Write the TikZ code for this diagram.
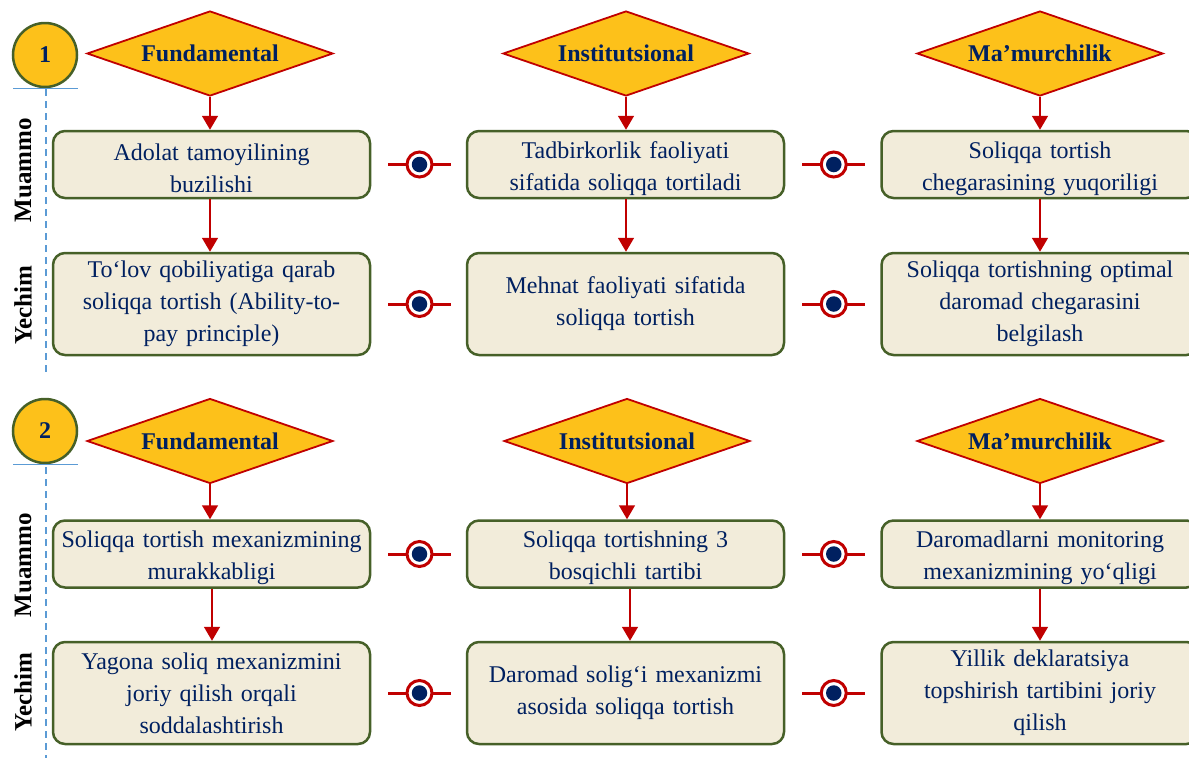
\documentclass[tikz,border=0pt]{standalone}
\usepackage{fontspec}
\setmainfont{Liberation Serif}
\usetikzlibrary{shapes.geometric,arrows.meta}
\definecolor{gold}{RGB}{253,193,26}
\definecolor{dred}{RGB}{192,0,0}
\definecolor{navy}{RGB}{0,32,96}
\definecolor{beige}{RGB}{242,236,218}
\definecolor{dgreen}{RGB}{70,96,40}
\definecolor{lblue}{RGB}{91,155,213}
\tikzset{
  cat/.style={diamond, aspect=2.9, minimum width=246pt, minimum height=85pt, inner sep=0pt,
    fill=gold, draw=dred, line width=1.8pt, text=navy,
    font=\fontsize{24}{28}\selectfont\bfseries},
  box/.style={rectangle, rounded corners=12pt, fill=beige, draw=dgreen, line width=2.5pt,
    minimum width=317pt, text width=310pt, align=center, text=navy, inner sep=0pt,
    font=\fontsize{24}{32}\selectfont},
  boxa/.style={box, minimum height=67pt, text height=25pt},
  boxb/.style={box, minimum height=102pt},
  num/.style={circle, minimum size=64pt, inner sep=0pt, fill=gold, draw=dgreen, line width=2.5pt,
    text=navy, font=\fontsize{24}{28}\selectfont\bfseries},
  side/.style={rotate=90, font=\fontsize{25}{28}\selectfont\bfseries, text=black},
  arr/.style={draw=dred, line width=1.6pt, -{Triangle[width=16pt,length=14pt]}},
  conn/.style={draw=dred, line width=3pt},
  ring/.style={circle, minimum size=25pt, inner sep=0pt, draw=dred, line width=3pt, fill=white},
  bluedot/.style={circle, minimum size=15.5pt, inner sep=0pt, fill=navy},
  dashln/.style={draw=lblue, line width=1.6pt, dash pattern=on 7pt off 5pt},
  uline/.style={draw=lblue, line width=1.4pt}
}
\begin{document}
\begin{tikzpicture}[x=1pt,y=-1pt]
\useasboundingbox (0,0) rectangle (1189,758);
% ---------- section 1 ----------
\node[num] (n1) at (45,55) {1};
\draw[uline] ([xshift=-32pt]n1.south) -- ([xshift=33pt]n1.south);
\coordinate (t1) at (46,89);
\coordinate (e1) at (46,376);
\draw[dashln] (t1) -- (e1);
\node[side] (m1) at (23,170) {Muammo};
\node[side] (y1) at (23,305) {Yechim};

\node[cat] (d11) at (210,53.5) {Fundamental};
\node[cat] (d21) at (626,53.5) {Institutsional};
\node[cat] (d31) at (1040,53.5) {Ma’murchilik};

\node[boxa] (a11) at (211.5,164.5) {Adolat tamoyilining\\buzilishi};
\node[boxa] (a21) at (625.5,164.5) {Tadbirkorlik faoliyati\\sifatida soliqqa tortiladi};
\node[boxa] (a31) at (1040,164.5) {Soliqqa tortish\\chegarasining yuqoriligi};

\node[boxb] (b11) at (211.5,304) {To‘lov qobiliyatiga qarab\\soliqqa tortish (Ability-to-\\pay principle)};
\node[boxb] (b21) at (625.5,304) {Mehnat faoliyati sifatida\\soliqqa tortish};
\node[boxb] (b31) at (1040,304) {Soliqqa tortishning optimal\\daromad chegarasini\\belgilash};

\foreach \d/\a/\b in {d11/a11/b11, d21/a21/b21, d31/a31/b31}{
  \draw[arr] (\d.south) -- (\d.south |- \a.north);
  \draw[arr] (\a.south -| \d.south) -- (\b.north -| \d.south);
}

% ---------- section 2 ----------
\node[num] (n2) at (45,431) {2};
\draw[uline] ([xshift=-32pt]n2.south) -- ([xshift=33pt]n2.south);
\coordinate (t2) at (46,467);
\coordinate (e2) at (46,758);
\draw[dashln] (t2) -- (e2);
\node[side] (m2) at (23,565) {Muammo};
\node[side] (y2) at (23,692) {Yechim};

\node[cat] (d12) at (210,441) {Fundamental};
\node[cat] (d22) at (627,441) {Institutsional};
\node[cat] (d32) at (1040,441) {Ma’murchilik};

\node[boxa] (a12) at (211.5,554) {Soliqqa tortish mexanizmining\\murakkabligi};
\node[boxa] (a22) at (625.5,554) {Soliqqa tortishning 3\\bosqichli tartibi};
\node[boxa] (a32) at (1040,554) {Daromadlarni monitoring\\mexanizmining yo‘qligi};

\node[boxb] (b12) at (211.5,693) {Yagona soliq mexanizmini\\joriy qilish orqali\\soddalashtirish};
\node[boxb] (b22) at (625.5,693) {Daromad solig‘i mexanizmi\\asosida soliqqa tortish};
\node[boxb] (b32) at (1040,693) {Yillik deklaratsiya\\topshirish tartibini joriy\\qilish};

\draw[arr] (d12.south) -- (d12.south |- a12.north);
\draw[arr] ([xshift=2pt]a12.south -| d12.south) -- ([xshift=2pt]b12.north -| d12.south);
\draw[arr] (d22.south) -- (d22.south |- a22.north);
\draw[arr] ([xshift=3pt]a22.south -| d22.south) -- ([xshift=3pt]b22.north -| d22.south);
\draw[arr] (d32.south) -- (d32.south |- a32.north);
\draw[arr] (a32.south -| d32.south) -- (b32.north -| d32.south);

% ---------- connector symbols ----------
\foreach \l/\r/\k in {a11/a21/p1, a21/a31/p2, b11/b21/p3, b21/b31/p4,
                      a12/a22/p5, a22/a32/p6, b12/b22/p7, b22/b32/p8}{
  \draw[conn] ([xshift=17pt]\l.east) -- ([xshift=-15pt]\r.west) node[midway, ring] (\k r) {};
  \node[bluedot] (\k d) at (\k r.center) {};
}
\end{tikzpicture}
\end{document}
